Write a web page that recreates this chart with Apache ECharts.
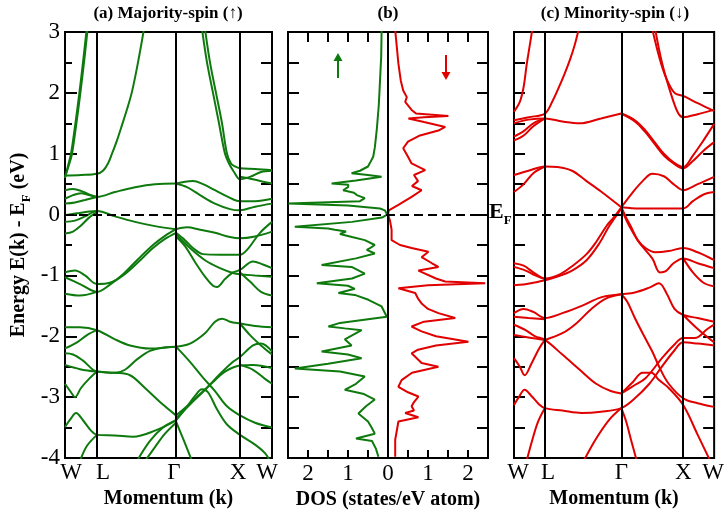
<!DOCTYPE html>
<html><head><meta charset="utf-8">
<script src="https://cdn.jsdelivr.net/npm/echarts@6/dist/echarts.min.js"></script>
<style>html,body{margin:0;padding:0;background:#fff}#c{width:727px;height:517px}</style>
</head><body><div id="c"></div>
<script>
// k-path positions (W, L, Γ, X, W) and labels
const kTicks = [0, 32, 111, 175, 207];
const kLabels = ['W', 'L', 'Γ', 'X', 'W'];

// Majority-spin bands: [k, E(eV)]
const majorityBands = [
 [[0,0.6],[3,0.8],[6,1.0],[10,1.45],[14,1.95],[18,2.5],[22,3.1]],
 [[0,0.62],[4,0.82],[7,1.0],[11,1.45],[15,1.95],[19,2.5],[23,3.1]],
 [[0,0.64],[16,0.65],[32,0.67],[38,0.72],[43,0.84],[47,1.0],[52,1.22],[57,1.47],[62,1.73],[67,2.02],[73,2.5],[79,3.05]],
 [[137,3.05],[142,2.5],[148,2.0],[154,1.5],[160,1.0],[164,0.84],[169,0.7],[175,0.58],[185,0.62],[196,0.7],[207,0.72]],
 [[140,3.05],[145,2.5],[151,2.0],[157,1.5],[162,1.0],[166,0.84],[170,0.79],[175,0.76],[190,0.75],[207,0.73]],
 [[175,0.62],[188,0.58],[198,0.54],[207,0.51]],
 [[0,0.4],[8,0.42],[16,0.39],[24,0.33],[32,0.29],[50,0.37],[70,0.45],[90,0.5],[111,0.51]],
 [[0,0.26],[8,0.32],[16,0.35],[24,0.32],[32,0.29]],
 [[0,0.18],[10,0.2],[20,0.24],[32,0.29]],
 [[111,0.51],[120,0.54],[128,0.55],[138,0.5],[150,0.4],[162,0.3],[175,0.22],[190,0.22],[207,0.26]],
 [[111,0.51],[122,0.45],[135,0.32],[150,0.18],[165,0.09],[175,0.07],[190,0.13],[207,0.18]],
 [[0,-0.01],[12,0.02],[24,0.05],[32,0.06],[50,-0.03],[70,-0.12],[90,-0.19],[111,-0.24]],
 [[0,-0.12],[10,-0.1],[20,-0.03],[28,0.04],[32,0.06]],
 [[0,-0.31],[8,-0.28],[16,-0.18],[24,-0.05],[32,0.04]],
 [[111,-0.24],[122,-0.21],[135,-0.25],[150,-0.3],[165,-0.37],[175,-0.39],[190,-0.36],[207,-0.28]],
 [[111,-0.3],[120,-0.42],[128,-0.55],[138,-0.65],[155,-0.66],[175,-0.66],[182,-0.58],[195,-0.3],[207,-0.12]],
 [[111,-0.36],[120,-0.52],[130,-0.78],[140,-1.02],[148,-1.17],[152,-1.19],[160,-1.06],[168,-0.95],[175,-0.91],[188,-0.77],[198,-0.82],[207,-0.88]],
 [[111,-0.32],[125,-0.55],[140,-0.75],[155,-0.88],[168,-0.96],[175,-0.98],[190,-1.0],[207,-1.02]],
 [[175,-0.95],[185,-1.1],[196,-1.27],[207,-1.33]],
 [[0,-0.95],[10,-0.92],[20,-1.0],[32,-1.14],[45,-1.12],[58,-1.0],[72,-0.8],[88,-0.55],[100,-0.4],[111,-0.3]],
 [[0,-1.03],[16,-1.15],[32,-1.27],[45,-1.15],[58,-0.98],[72,-0.75],[88,-0.5],[100,-0.35],[111,-0.24]],
 [[0,-1.3],[15,-1.33],[32,-1.27]],
 [[0,-1.85],[15,-1.85],[32,-1.9],[50,-2.05],[65,-2.15],[85,-2.2],[111,-2.17],[125,-2.12],[140,-1.95],[150,-1.76],[157,-1.71],[165,-1.76],[175,-1.79],[190,-1.83],[207,-1.85]],
 [[0,-2.2],[12,-2.1],[22,-1.98],[32,-1.9]],
 [[0,-2.28],[8,-2.3],[18,-2.4],[32,-2.58],[50,-2.6],[65,-2.64],[80,-2.85],[95,-3.08],[111,-3.3]],
 [[0,-2.47],[15,-2.54],[32,-2.58],[50,-2.6],[60,-2.55],[72,-2.38],[85,-2.24],[100,-2.18],[111,-2.17]],
 [[0,-2.78],[6,-2.92],[10,-3.0],[16,-2.85],[24,-2.7],[32,-2.58]],
 [[0,-3.49],[6,-3.35],[11,-3.26],[18,-3.38],[26,-3.55],[32,-3.62],[50,-3.63],[68,-3.65],[90,-3.55],[111,-3.38]],
 [[15,-4.05],[22,-3.8],[32,-3.62]],
 [[72,-4.05],[85,-3.72],[98,-3.5],[111,-3.38]],
 [[80,-4.05],[90,-3.82],[100,-3.6],[111,-3.42]],
 [[111,-2.17],[125,-2.42],[138,-2.68],[150,-2.9],[162,-3.15],[175,-3.3],[190,-3.42],[207,-3.5]],
 [[111,-3.3],[122,-3.15],[135,-2.95],[148,-2.75],[160,-2.58],[175,-2.48],[188,-2.47],[207,-2.52]],
 [[111,-3.35],[125,-3.12],[140,-2.88],[155,-2.62],[168,-2.42],[175,-2.34],[188,-2.15],[196,-2.12],[207,-2.25]],
 [[111,-3.38],[120,-3.2],[130,-2.98],[137,-2.87],[143,-2.92],[152,-3.2],[162,-3.45],[175,-3.62],[190,-3.78],[200,-3.92],[205,-4.05]],
 [[111,-3.4],[116,-3.6],[121,-3.8],[127,-4.05]],
 [[175,-1.79],[185,-1.98],[196,-2.15],[207,-2.3]],
 [[175,-2.47],[188,-2.55],[200,-2.7],[207,-2.78]]
];

// Minority-spin bands: [k, E(eV)]
const minorityBands = [
 [[0,1.69],[6,1.85],[10,2.1],[13,2.45],[16,2.75],[19,3.05]],
 [[0,1.55],[15,1.6],[32,1.66],[40,1.87],[45,2.04],[52,2.3],[58,2.55],[63,2.8],[67,3.05]],
 [[0,1.5],[15,1.56],[32,1.58],[50,1.53],[68,1.5],[90,1.58],[111,1.66]],
 [[0,1.28],[10,1.37],[20,1.5],[32,1.58]],
 [[0,1.22],[10,1.3],[20,1.45],[32,1.58]],
 [[111,1.66],[125,1.55],[135,1.4],[145,1.2],[155,1.0],[165,0.86],[175,0.78],[185,0.97],[196,1.22],[207,1.49]],
 [[111,1.66],[125,1.53],[135,1.37],[145,1.17],[155,0.97],[165,0.84],[175,0.76],[185,0.88],[196,1.05],[207,1.19]],
 [[143,3.05],[150,2.6],[157,2.26],[166,2.0],[175,1.95],[190,1.83],[207,1.7]],
 [[146,3.05],[153,2.5],[163,1.95],[170,1.66],[175,1.6],[190,1.65],[207,1.72]],
 [[0,0.65],[15,0.72],[32,0.79],[45,0.78],[60,0.72],[75,0.55],[90,0.38],[111,0.12]],
 [[0,0.37],[10,0.5],[20,0.68],[32,0.79]],
 [[111,0.12],[122,0.35],[133,0.55],[143,0.67],[155,0.63],[165,0.5],[175,0.4],[190,0.5],[207,0.62]],
 [[111,0.12],[130,0.1],[150,0.1],[175,0.1],[185,0.22],[196,0.33],[207,0.37]],
 [[0,-0.8],[10,-0.84],[20,-0.95],[32,-1.05],[40,-1.03],[48,-0.98],[60,-0.85],[75,-0.65],[85,-0.45],[96,-0.18],[103,-0.05],[111,0.12]],
 [[0,-1.16],[10,-1.15],[20,-1.12],[32,-1.08],[45,-1.02],[60,-0.92],[75,-0.75],[88,-0.48],[98,-0.2],[104,-0.06],[111,0.1]],
 [[0,-0.86],[12,-0.92],[22,-1.0],[32,-1.06]],
 [[111,0.12],[116,-0.05],[121,-0.2],[128,-0.42],[136,-0.55],[146,-0.62],[160,-0.6],[175,-0.55],[190,-0.62],[207,-0.75]],
 [[111,0.1],[115,-0.05],[119,-0.18],[129,-0.45],[143,-0.72],[151,-0.95],[157,-0.93],[165,-0.8],[175,-0.72],[190,-0.8],[207,-0.88]],
 [[175,-0.72],[185,-0.95],[196,-1.12],[207,-1.18]],
 [[0,-1.62],[10,-1.55],[20,-1.6],[32,-1.7],[50,-1.62],[70,-1.5],[90,-1.36],[111,-1.31],[125,-1.28],[140,-1.2],[150,-1.13],[158,-1.3],[166,-1.55],[175,-1.65],[190,-1.7],[207,-1.76]],
 [[0,-1.68],[15,-1.7],[32,-1.72]],
 [[32,-2.06],[50,-1.95],[65,-1.78],[80,-1.55],[95,-1.38],[111,-1.31]],
 [[111,-1.31],[117,-1.43],[125,-1.7],[134,-1.98],[143,-2.25],[151,-2.53],[160,-2.78],[175,-3.02],[190,-3.1],[207,-3.16]],
 [[0,-1.81],[12,-1.9],[22,-2.0],[32,-2.06],[50,-2.3],[68,-2.55],[85,-2.78],[100,-2.9],[111,-2.94]],
 [[0,-1.98],[15,-2.02],[32,-2.06]],
 [[0,-2.36],[6,-2.5],[11,-2.64],[18,-2.45],[26,-2.2],[32,-2.06]],
 [[111,-2.94],[125,-2.8],[136,-2.69],[153,-2.36],[165,-2.15],[175,-2.03],[187,-2.03],[200,-1.88],[207,-1.81]],
 [[111,-2.94],[123,-2.75],[133,-2.6],[142,-2.6],[150,-2.72],[160,-2.85],[175,-3.13],[190,-3.62],[203,-4.05]],
 [[0,-3.13],[5,-3.0],[11,-2.88],[18,-2.98],[26,-3.12],[32,-3.18],[50,-3.22],[70,-3.26],[90,-3.24],[111,-3.18],[125,-3.02],[140,-2.78],[152,-2.52],[165,-2.25],[175,-2.1],[190,-2.12],[207,-2.15]],
 [[32,-3.18],[25,-3.4],[19,-3.7],[13,-4.05]],
 [[111,-3.18],[116,-3.4],[121,-3.7],[127,-4.05]],
 [[72,-4.05],[85,-3.68],[98,-3.38],[111,-3.18]],
 [[175,-1.65],[190,-1.88],[207,-2.1]]
];

// DOS (states/eV atom): [E(eV), DOS]
const dosMajority = [
 [3.03,0.16],[2.6,0.17],[2.2,0.2],[1.8,0.23],[1.4,0.28],[1.1,0.33],[0.95,0.37],[0.85,0.45],[0.79,0.5],[0.72,0.7],[0.68,0.91],[0.65,0.5],[0.62,0.16],[0.56,0.8],[0.51,1.41],[0.49,0.99],[0.45,1.0],[0.4,1.12],[0.36,0.85],[0.32,0.78],[0.27,0.58],[0.22,0.7],[0.18,2.49],[0.15,1.0],[0.1,0.2],[0.07,0.08],[0.0,0.02],[-0.05,0.15],[-0.12,0.9],[-0.2,2.33],[-0.23,1.5],[-0.25,1.33],[-0.28,1.05],[-0.32,1.2],[-0.37,0.9],[-0.42,0.58],[-0.5,0.33],[-0.55,0.45],[-0.58,0.53],[-0.64,0.33],[-0.72,0.8],[-0.83,1.66],[-0.86,0.91],[-0.97,0.58],[-1.05,0.9],[-1.13,1.78],[-1.17,1.0],[-1.22,0.83],[-1.29,1.24],[-1.32,0.83],[-1.4,0.49],[-1.51,0.16],[-1.68,0.03],[-1.72,0.5],[-1.78,1.2],[-1.84,1.49],[-1.87,1.08],[-1.9,0.66],[-2.05,1.08],[-2.15,0.91],[-2.25,1.66],[-2.3,1.0],[-2.36,0.66],[-2.45,1.5],[-2.53,2.33],[-2.58,1.2],[-2.66,0.58],[-2.78,0.8],[-2.88,1.08],[-2.95,0.6],[-3.04,0.33],[-3.15,0.55],[-3.27,0.74],[-3.4,0.5],[-3.5,0.41],[-3.6,0.33],[-3.68,0.8],[-3.72,0.4],[-3.85,0.3],[-3.98,0.24]
];
const dosMinority = [
 [3.03,0.18],[2.48,0.26],[2.2,0.32],[2.04,0.38],[1.93,0.47],[1.85,0.43],[1.72,0.59],[1.66,0.7],[1.62,1.51],[1.6,0.9],[1.58,0.51],[1.52,0.9],[1.44,1.43],[1.38,1.26],[1.3,0.8],[1.2,0.5],[1.09,0.38],[0.95,0.5],[0.84,0.59],[0.73,0.93],[0.65,0.65],[0.55,0.75],[0.47,0.6],[0.4,0.84],[0.29,0.59],[0.16,0.26],[0.07,0.02],[0.0,0.0],[-0.1,0.05],[-0.25,0.09],[-0.42,0.09],[-0.5,0.3],[-0.55,0.59],[-0.61,1.01],[-0.7,0.84],[-0.8,1.1],[-0.86,1.26],[-0.92,0.76],[-1.05,1.2],[-1.1,1.43],[-1.13,2.43],[-1.16,1.0],[-1.21,0.26],[-1.29,0.68],[-1.38,0.75],[-1.46,0.84],[-1.55,1.0],[-1.62,1.26],[-1.7,1.68],[-1.76,0.9],[-1.84,0.59],[-1.92,0.84],[-2.0,1.2],[-2.09,2.01],[-2.15,1.2],[-2.22,0.75],[-2.28,0.59],[-2.44,0.84],[-2.5,1.26],[-2.6,0.6],[-2.72,0.34],[-2.83,0.26],[-2.92,0.5],[-2.99,0.76],[-3.08,0.65],[-3.15,0.59],[-3.22,0.65],[-3.26,0.43],[-3.33,0.76],[-3.4,0.26],[-3.7,0.18],[-3.98,0.18]
];

const GREEN = '#0e7a0e', RED = '#e00000';
const FF = '"Liberation Serif","Times New Roman",serif';
const chart = echarts.init(document.getElementById('c'), null, {renderer: 'canvas'});

const grids = [
 {left: 65, top: 32, width: 207, height: 426},
 {left: 288, top: 32, width: 200, height: 426},
 {left: 514, top: 32, width: 203, height: 426}
].map(g => Object.assign(g, {show: true, borderColor: '#000', borderWidth: 2, backgroundColor: 'transparent', containLabel: false}));

const noLine = {show: false, onZero: false};
const tickIn = (len) => ({show: true, inside: true, length: len, lineStyle: {color: '#000', width: 2}});
// per-label horizontal nudges (left padding, right padding) for each panel
function kLabel(pads) {
  const rich = {};
  pads.forEach((p, i) => { rich['p' + i] = {fontFamily: FF, fontSize: 23, color: '#000', padding: [0, p[1], 0, p[0]]}; });
  return {
    show: true, customValues: kTicks, margin: 3, color: '#000', fontFamily: FF, fontSize: 23,
    formatter: v => { const i = kTicks.indexOf(v); return i < 0 ? '' : '{p' + i + '|' + kLabels[i] + '}'; },
    rich: rich
  };
}
const nameStyle = {color: '#000', fontFamily: FF, fontWeight: 'bold', fontSize: 20};

const xAxis = [
 {gridIndex: 0, type: 'value', min: 0, max: 207, position: 'bottom', axisLine: noLine, axisTick: {show: false}, splitLine: {show: false},
  axisLabel: kLabel([[12,0],[12,0],[0,4],[0,4],[0,10]]), name: 'Momentum (k)', nameLocation: 'middle', nameGap: 28, nameTextStyle: nameStyle},
 {gridIndex: 0, type: 'value', min: 0, max: 207, position: 'top', axisLine: noLine, axisTick: {show: false}, splitLine: {show: false}, axisLabel: {show: false}},
 {gridIndex: 1, type: 'value', min: -2.5, max: 2.5, interval: 0.5, position: 'bottom', axisLine: noLine, axisTick: tickIn(8), splitLine: {show: false},
  axisLabel: {show: true, margin: 4, color: '#000', fontFamily: FF, fontSize: 23, formatter: v => Math.abs(v - Math.round(v)) < 1e-9 && Math.abs(v) < 2.4 ? String(Math.abs(Math.round(v))) : ''},
  name: 'DOS (states/eV atom)', nameLocation: 'middle', nameGap: 28, nameTextStyle: nameStyle},
 {gridIndex: 1, type: 'value', min: -2.5, max: 2.5, interval: 0.5, position: 'top', axisLine: noLine, axisTick: tickIn(10), splitLine: {show: false}, axisLabel: {show: false}},
 {gridIndex: 2, type: 'value', min: 0, max: 207, position: 'bottom', axisLine: noLine, axisTick: {show: false}, splitLine: {show: false},
  axisLabel: kLabel([[8,0],[6,0],[0,0],[0,0],[0,2]]), name: 'Momentum (k)', nameLocation: 'middle', nameGap: 28, nameTextStyle: nameStyle},
 {gridIndex: 2, type: 'value', min: 0, max: 207, position: 'top', axisLine: noLine, axisTick: {show: false}, splitLine: {show: false}, axisLabel: {show: false}}
];

const yAxis = [
 {gridIndex: 0, type: 'value', min: -4, max: 3, interval: 1, position: 'left', axisLine: noLine, axisTick: tickIn(12), minorTick: {show: true, splitNumber: 2, length: 7, lineStyle: {color: '#000', width: 2}}, splitLine: {show: false}, minorSplitLine: {show: false},
  axisLabel: {show: true, margin: 5, color: '#000', fontFamily: FF, fontSize: 23},
  name: '{a|Energy E(k) - E}{s|F}{a| (eV)}', nameLocation: 'middle', nameGap: 32,
  nameTextStyle: {rich: {a: {fontFamily: FF, fontWeight: 'bold', fontSize: 20, lineHeight: 28, verticalAlign: 'middle', color: '#000'}, s: {fontFamily: FF, fontWeight: 'bold', fontSize: 13, lineHeight: 13, verticalAlign: 'bottom', color: '#000'}}}},
 {gridIndex: 0, type: 'value', min: -4, max: 3, interval: 0.5, position: 'right', axisLine: noLine, axisTick: tickIn(11), splitLine: {show: false}, axisLabel: {show: false}},
 {gridIndex: 1, type: 'value', min: -4, max: 3, interval: 0.5, position: 'left', axisLine: noLine, axisTick: tickIn(11), splitLine: {show: false}, axisLabel: {show: false}},
 {gridIndex: 1, type: 'value', min: -4, max: 3, interval: 0.5, position: 'right', axisLine: noLine, axisTick: tickIn(11), splitLine: {show: false}, axisLabel: {show: false}},
 {gridIndex: 2, type: 'value', min: -4, max: 3, interval: 0.5, position: 'left', axisLine: noLine, axisTick: tickIn(11), splitLine: {show: false}, axisLabel: {show: false}},
 {gridIndex: 2, type: 'value', min: -4, max: 3, interval: 0.5, position: 'right', axisLine: noLine, axisTick: tickIn(11), splitLine: {show: false}, axisLabel: {show: false}}
];

const series = [];
const guide = (xi, yi, data) => ({
 type: 'line', xAxisIndex: xi, yAxisIndex: yi, data: [], silent: true, z: 1,
 markLine: {silent: true, symbol: ['none', 'none'], animation: false, label: {show: false}, data: data}
});
const vLines = [32, 111, 175].map(k => ({xAxis: k, lineStyle: {color: '#000', width: 2, type: 'solid'}}));
const zeroDash = {yAxis: 0, lineStyle: {color: '#000', width: 2, type: [9, 5]}};
series.push(guide(0, 0, vLines.concat([zeroDash])));
series.push(guide(4, 4, vLines.concat([zeroDash])));
series.push(guide(2, 2, [{xAxis: 0, lineStyle: {color: '#000', width: 2, type: 'solid'}}, zeroDash]));

majorityBands.forEach(b => series.push({type: 'line', xAxisIndex: 0, yAxisIndex: 0, data: b, smooth: 0.35, showSymbol: false, silent: true, z: 2, lineStyle: {color: GREEN, width: 2}}));
minorityBands.forEach(b => series.push({type: 'line', xAxisIndex: 4, yAxisIndex: 4, data: b, smooth: 0.35, showSymbol: false, silent: true, z: 2, lineStyle: {color: RED, width: 2}}));
series.push({type: 'line', xAxisIndex: 2, yAxisIndex: 2, data: dosMajority.map(p => [-p[1], p[0]]), showSymbol: false, silent: true, z: 2, lineStyle: {color: GREEN, width: 2}});
series.push({type: 'line', xAxisIndex: 2, yAxisIndex: 2, data: dosMinority.map(p => [p[1], p[0]]), showSymbol: false, silent: true, z: 2, lineStyle: {color: RED, width: 2}});

const titleFont = 'bold 17px ' + FF;
const graphic = [
 {type: 'text', x: 168, y: 14, style: {text: '(a) Majority-spin (↑)', font: titleFont, fill: '#000', align: 'center', verticalAlign: 'middle'}},
 {type: 'text', x: 388, y: 14, style: {text: '(b)', font: titleFont, fill: '#000', align: 'center', verticalAlign: 'middle'}},
 {type: 'text', x: 615, y: 14, style: {text: '(c) Minority-spin (↓)', font: titleFont, fill: '#000', align: 'center', verticalAlign: 'middle'}},
 {type: 'text', x: 489, y: 212, z: 10, style: {text: '{e|E}{f|F}', align: 'left', verticalAlign: 'middle',
   rich: {e: {fontFamily: FF, fontWeight: 'bold', fontSize: 22, lineHeight: 30, verticalAlign: 'middle', fill: '#000'}, f: {fontFamily: FF, fontWeight: 'bold', fontSize: 13, lineHeight: 13, verticalAlign: 'bottom', fill: '#000'}}}},
 {type: 'line', shape: {x1: 338, y1: 78, x2: 338, y2: 58}, style: {stroke: GREEN, lineWidth: 2}},
 {type: 'polygon', shape: {points: [[333.5, 61], [338, 53], [342.5, 61]]}, style: {fill: GREEN}},
 {type: 'line', shape: {x1: 446, y1: 55, x2: 446, y2: 75}, style: {stroke: RED, lineWidth: 2}},
 {type: 'polygon', shape: {points: [[441.5, 72], [446, 80], [450.5, 72]]}, style: {fill: RED}}
];

chart.setOption({animation: false, backgroundColor: '#fff', grid: grids, xAxis: xAxis, yAxis: yAxis, series: series, graphic: graphic});
</script></body></html>
